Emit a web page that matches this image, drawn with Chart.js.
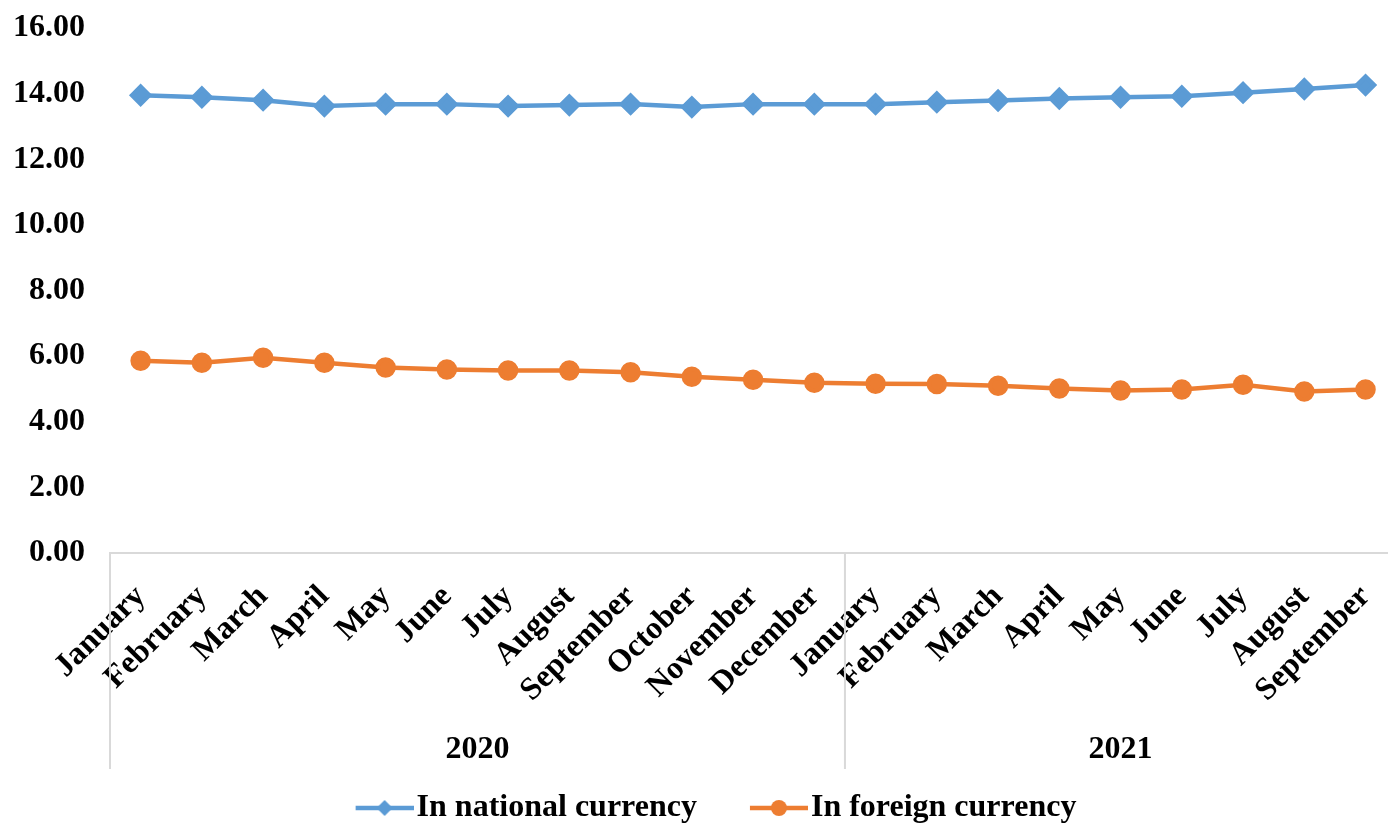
<!DOCTYPE html>
<html>
<head>
<meta charset="utf-8">
<script src="https://cdn.jsdelivr.net/npm/chart.js@4.4.1/dist/chart.umd.min.js"></script>
<style>
  html, body { margin: 0; padding: 0; overflow: hidden; background: #fff; }
  #wrap { width: 1410px; height: 823px; }
</style>
</head>
<body>
<div id="wrap"><canvas id="chart" width="1410" height="823"></canvas></div>
<script>
const months = [
  "January", "February", "March", "April", "May", "June", "July", "August",
  "September", "October", "November", "December",
  "January", "February", "March", "April", "May", "June", "July", "August", "September"
];
const years = ["2020", "2021"];
const monthsPerYear = [12, 9];

const nationalCurrency = [
  13.95, 13.89, 13.80, 13.62, 13.68, 13.68, 13.62, 13.65, 13.68, 13.59, 13.68, 13.68,
  13.68, 13.74, 13.79, 13.85, 13.89, 13.92, 14.03, 14.14, 14.26
];
const foreignCurrency = [
  5.86, 5.80, 5.95, 5.80, 5.65, 5.59, 5.56, 5.56, 5.51, 5.37, 5.28, 5.19,
  5.16, 5.15, 5.10, 5.01, 4.95, 4.98, 5.13, 4.92, 4.98
];

const FONT = "'Liberation Serif', 'Times New Roman', serif";
const BLUE = "#5B9BD5";
const ORANGE = "#ED7D31";
const GRID = "#d9d9d9";

// legend sample: short line with the marker on it, blank space on the left
// so the items sit further apart
function legendSample(color, style) {
  const c = document.createElement("canvas");
  c.width = 121;
  c.height = 20;
  const g = c.getContext("2d");
  const x0 = 63;
  g.strokeStyle = color;
  g.lineWidth = 4.5;
  g.beginPath();
  g.moveTo(x0, 10);
  g.lineTo(x0 + 58, 10);
  g.stroke();
  g.fillStyle = color;
  g.beginPath();
  const cx = x0 + 29;
  if (style === "diamond") {
    g.moveTo(cx, 2); g.lineTo(cx + 8, 10); g.lineTo(cx, 18); g.lineTo(cx - 8, 10);
  } else {
    g.arc(cx, 10, 8, 0, Math.PI * 2);
  }
  g.closePath();
  g.fill();
  return c;
}
const samples = [legendSample(BLUE, "diamond"), legendSample(ORANGE, "circle")];

// second level of the category axis: years with separators
const yearAxis = {
  id: "yearAxis",
  afterLayout(chart) {
    chart.legend.left -= 14;
    chart.legend.right -= 14;
    chart.legend.top += 11;
    chart.legend.bottom += 11;
  },
  afterDraw(chart) {
    const x = chart.scales.x;
    const ctx = chart.ctx;
    const step = x.getPixelForValue(1) - x.getPixelForValue(0);
    const top = chart.chartArea.bottom;
    const bottom = top + 216;
    ctx.save();
    ctx.strokeStyle = GRID;
    ctx.lineWidth = 2;
    ctx.fillStyle = "#000";
    ctx.font = "bold 32px " + FONT;
    ctx.textAlign = "center";
    ctx.textBaseline = "middle";
    let start = 0;
    years.forEach((yr, i) => {
      const end = start + monthsPerYear[i] - 1;
      const left = x.getPixelForValue(start) - step / 2;
      const right = x.getPixelForValue(end) + step / 2;
      ctx.beginPath();
      ctx.moveTo(left, top);
      ctx.lineTo(left, bottom);
      if (i === years.length - 1) {
        ctx.moveTo(right, top);
        ctx.lineTo(right, bottom);
      }
      ctx.stroke();
      ctx.fillText(yr, (left + right) / 2, top + 197);
      start = end + 1;
    });
    ctx.restore();
  }
};

new Chart(document.getElementById("chart"), {
  type: "line",
  data: {
    labels: months,
    datasets: [
      {
        label: "In national currency",
        data: nationalCurrency,
        borderColor: BLUE,
        backgroundColor: BLUE,
        borderWidth: 4.5,
        pointStyle: "rectRot",
        pointRadius: 8.5,
        pointHoverRadius: 8.5,
        tension: 0
      },
      {
        label: "In foreign currency",
        data: foreignCurrency,
        borderColor: ORANGE,
        backgroundColor: ORANGE,
        borderWidth: 4.5,
        pointStyle: "circle",
        pointRadius: 8,
        pointHoverRadius: 8,
        tension: 0
      }
    ]
  },
  options: {
    responsive: false,
    animation: false,
    devicePixelRatio: 1,
    layout: { padding: { top: 28, left: 0, right: 0, bottom: 0 } },
    scales: {
      x: {
        offset: true,
        grid: { display: false },
        border: { display: true, color: GRID, width: 2 },
        ticks: {
          color: "#000",
          font: { family: FONT, size: 32, weight: "bold" },
          minRotation: 45,
          maxRotation: 45,
          autoSkip: false,
          padding: 17
        },
        afterFit(scale) { scale.height = 225; }
      },
      y: {
        min: 0,
        max: 16,
        grid: { display: false },
        border: { display: false },
        ticks: {
          stepSize: 2,
          color: "#000",
          font: { family: FONT, size: 32, weight: "bold" },
          padding: 17,
          callback: (v) => v.toFixed(2)
        },
        afterFit(scale) {
          scale.width = 110;
          scale.paddingTop = 0;
          scale.paddingBottom = 0;
        }
      }
    },
    plugins: {
      tooltip: { enabled: false },
      legend: {
        position: "bottom",
        labels: {
          color: "#000",
          font: { family: FONT, size: 32, weight: "bold" },
          usePointStyle: true,
          pointStyleWidth: 95,
          padding: 3,
          generateLabels(chart) {
            return chart.data.datasets.map((ds, i) => ({
              text: ds.label,
              pointStyle: samples[i],
              fillStyle: ds.borderColor,
              strokeStyle: ds.borderColor,
              lineWidth: 0,
              hidden: false,
              datasetIndex: i,
              fontColor: "#000"
            }));
          }
        }
      }
    }
  },
  plugins: [yearAxis]
});
</script>
</body>
</html>
